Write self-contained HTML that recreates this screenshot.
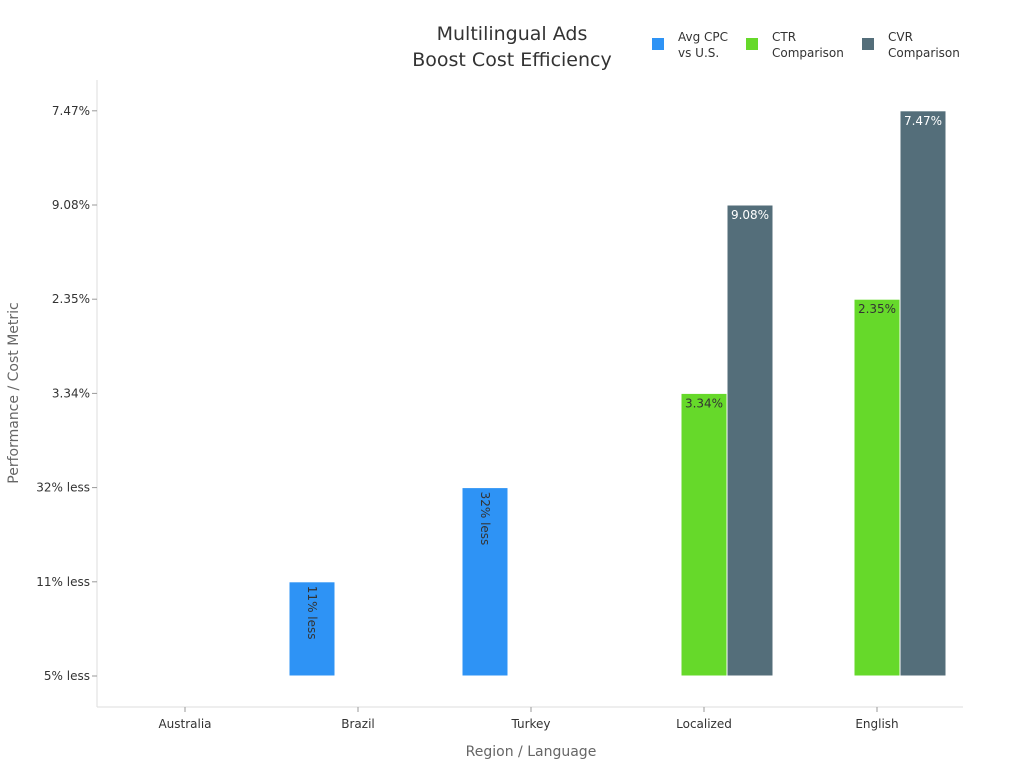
<!DOCTYPE html>
<html><head><meta charset="utf-8"><style>
body{margin:0;background:#fff;font-family:"Liberation Sans","DejaVu Sans",sans-serif}
svg text{font-family:"DejaVu Sans","Liberation Sans",sans-serif}
</style></head><body>
<svg width="1024" height="768" xmlns="http://www.w3.org/2000/svg">
<g id="root"></g>
</svg>
<script>
const categories=["Australia","Brazil","Turkey","Localized","English"];
const yTicks=["5% less","11% less","32% less","3.34%","2.35%","9.08%","7.47%"];
const seriesNames=["Avg CPC vs U.S.","CTR Comparison","CVR Comparison"];
const cpcValues=[null,"11% less","32% less",null,null];
const ctrValues=[null,null,null,"3.34%","2.35%"];
const cvrValues=[null,null,null,"9.08%","7.47%"];
const NS="http://www.w3.org/2000/svg";
const root=document.getElementById('root');
function mk(t,a,txt){const e=document.createElementNS(NS,t);for(const k in a)e.setAttribute(k,a[k]);if(txt!=null)e.textContent=txt;root.appendChild(e);return e;}
const L=97,R=963,T=80,B=707;
const xC=i=>185+i*173;
const yC=i=>676-i*94.2;
const yOf=v=>yC(yTicks.indexOf(v));
let e;
e=mk('line',{x1:L,y1:T,x2:L,y2:B,stroke:'#ddd'});
e=mk('line',{x1:L,y1:B,x2:R,y2:B,stroke:'#ddd'});
yTicks.forEach((t,i)=>{const y=yC(i);
e=mk('line',{x1:L-5,y1:y,x2:L,y2:y,stroke:'#999'});
e=mk('text',{x:L-7,y:y+4,'text-anchor':'end','font-size':12,fill:'#333'},t);});
categories.forEach((c,i)=>{
e=mk('line',{x1:xC(i),y1:B,x2:xC(i),y2:B+5,stroke:'#999'});
e=mk('text',{x:xC(i),y:728,'text-anchor':'middle','font-size':12,fill:'#333'},c);});
const series=[[cpcValues,'#2e93f5',-46,'rot','#333'],[ctrValues,'#66d92a',0,'h','#333'],[cvrValues,'#546e7a',46,'h','#fff']];
const base=yC(0),W=46;
series.forEach(([vals,col,off,mode,tc],s)=>{vals.forEach((v,i)=>{if(v==null)return;
const y=yOf(v),x=xC(i)+off-W/2;
e=mk('rect',{x:x,y:y,width:W,height:base-y,fill:col,stroke:'#fff','stroke-width':1});
if(mode==='rot'){e=mk('text',{x:0,y:0,'font-size':12,fill:tc,transform:`translate(${x+W/2-4},${y+4}) rotate(90)`},v);}
else{e=mk('text',{x:x+W/2,y:y+14,'text-anchor':'middle','font-size':12,fill:tc},v);}
});});
e=mk('text',{x:512,y:40,'text-anchor':'middle','font-size':19,fill:'#333'},'Multilingual Ads');
e=mk('text',{x:512,y:66,'text-anchor':'middle','font-size':19,fill:'#333'},'Boost Cost Efficiency');
e=mk('text',{x:531,y:756,'text-anchor':'middle','font-size':14,fill:'#666'},'Region / Language');
e=mk('text',{x:0,y:0,'text-anchor':'middle','font-size':14,fill:'#666',transform:'translate(18,393) rotate(-90)'},'Performance / Cost Metric');
const lx=[652,746,862];const lines=[["Avg CPC","vs U.S."],["CTR","Comparison"],["CVR","Comparison"]];
series.forEach((s,i)=>{
e=mk('rect',{x:lx[i],y:38,width:12,height:12,fill:s[1]});
e=mk('text',{x:lx[i]+26,y:41,'font-size':12,fill:'#333'},lines[i][0]);
e=mk('text',{x:lx[i]+26,y:57,'font-size':12,fill:'#333'},lines[i][1]);});
</script>
</body></html>
